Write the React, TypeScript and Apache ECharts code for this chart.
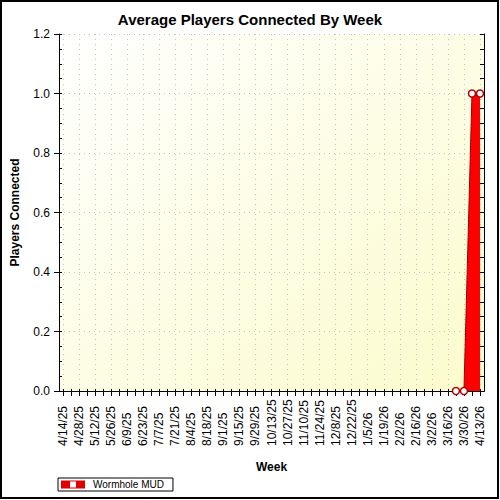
import React, { useEffect, useRef } from "react";
import * as echarts from "echarts";

const weeks: string[] = [
  "4/14/25", "4/21/25", "4/28/25", "5/5/25", "5/12/25", "5/19/25", "5/26/25", "6/2/25",
  "6/9/25", "6/16/25", "6/23/25", "6/30/25", "7/7/25", "7/14/25", "7/21/25", "7/28/25",
  "8/4/25", "8/11/25", "8/18/25", "8/25/25", "9/1/25", "9/8/25", "9/15/25", "9/22/25",
  "9/29/25", "10/6/25", "10/13/25", "10/20/25", "10/27/25", "11/3/25", "11/10/25", "11/17/25",
  "11/24/25", "12/1/25", "12/8/25", "12/15/25", "12/22/25", "12/29/25", "1/5/26", "1/12/26",
  "1/19/26", "1/26/26", "2/2/26", "2/9/26", "2/16/26", "2/23/26", "3/2/26", "3/9/26",
  "3/16/26", "3/23/26", "3/30/26", "4/6/26", "4/13/26",
];

// Only the last four weeks carry data; earlier weeks have no value.
const knownWeeks: string[] = ["3/23/26", "3/30/26", "4/6/26", "4/13/26"];
const knownValues: number[] = [0, 0, 1, 1];

const seriesName = "Wormhole MUD";
const yTicks: number[] = [0, 0.2, 0.4, 0.6, 0.8, 1.0, 1.2];

const playerData: (number | null)[] = weeks.map((w) => {
  const i = knownWeeks.indexOf(w);
  return i >= 0 ? knownValues[i] : null;
});

const FONT = "'Liberation Sans', Arial, sans-serif";

export default function App() {
  const ref = useRef<HTMLDivElement>(null);
  useEffect(() => {
    if (!ref.current) return;
    const chart = echarts.init(ref.current, undefined, { renderer: "svg" });
    const yMin = yTicks[0];
    const yMax = yTicks[yTicks.length - 1];
    const yInt = yTicks[1] - yTicks[0];
    const dotted = { type: [1, 4] as any, color: "#c4c4c4", width: 1 };
    chart.setOption({
      animation: false,
      backgroundColor: "#ffffff",
      textStyle: { fontFamily: FONT },
      title: {
        text: "Average Players Connected By Week",
        left: "center",
        top: 7,
        textStyle: { fontFamily: FONT, fontSize: 15, fontWeight: "bold", color: "#000" },
      },
      graphic: [
        {
          type: "rect",
          shape: { x: 1, y: 1, width: 497, height: 497 },
          style: { fill: "none", stroke: "#000", lineWidth: 2 },
          silent: true,
          z: 100,
        },
      ],
      legend: {
        left: 58,
        top: 478,
        orient: "horizontal",
        backgroundColor: "#fff",
        borderColor: "#000",
        borderWidth: 1,
        borderRadius: 0,
        padding: [1, 9, 1, 3],
        itemWidth: 24,
        itemHeight: 8,
        icon: "path://M0,0H24V8H0Z M9,1V7H15V1Z",
        itemStyle: { color: "#e00000", borderWidth: 0 },
        textStyle: { fontFamily: FONT, fontSize: 10, color: "#000", padding: [0, 0, 0, 3], lineHeight: 11 },
        data: [seriesName],
      },
      grid: {
        left: 59,
        top: 34,
        right: 16,
        bottom: 109,
        show: true,
        borderWidth: 0,
        backgroundColor: new echarts.graphic.LinearGradient(0, 0, 1, 1, [
          { offset: 0, color: "#ffffff" },
          { offset: 1, color: "#fbfbcc" },
        ]),
      },
      xAxis: [
        {
          type: "category",
          position: "bottom",
          data: weeks,
          boundaryGap: true,
          name: "Week",
          nameLocation: "middle",
          nameGap: 70,
          nameTextStyle: { fontFamily: FONT, fontSize: 12, fontWeight: "bold", color: "#000" },
          axisLine: { show: true, lineStyle: { color: "#000", width: 1 } },
          axisTick: { show: true, inside: false, length: 5, interval: 0, alignWithLabel: true, lineStyle: { color: "#000" } },
          axisLabel: {
            interval: 1,
            rotate: 90,
            align: "left",
            verticalAlign: "middle",
            margin: 55,
            fontFamily: FONT,
            fontSize: 12,
            color: "#000",
          },
          splitLine: { show: true, interval: 1, alignWithLabel: true, lineStyle: dotted } as any,
        },
        {
          type: "category",
          position: "top",
          data: weeks,
          boundaryGap: true,
          axisLine: { show: true, lineStyle: { color: "#000", width: 1 } },
          axisTick: { show: true, inside: true, length: 4, interval: 0, alignWithLabel: true, lineStyle: { color: "#000" } },
          axisLabel: { show: false },
          splitLine: { show: false },
        },
        {
          type: "category",
          position: "bottom",
          data: weeks,
          boundaryGap: true,
          axisLine: { show: false },
          axisTick: { show: true, inside: true, length: 2, interval: 0, alignWithLabel: true, lineStyle: { color: "#000" } },
          axisLabel: { show: false },
          splitLine: { show: false },
        },
      ],
      yAxis: [
        {
          type: "value",
          position: "left",
          min: yMin,
          max: yMax,
          interval: yInt,
          name: "Players Connected",
          nameLocation: "middle",
          nameGap: 38,
          nameTextStyle: { fontFamily: FONT, fontSize: 12, fontWeight: "bold", color: "#000" },
          axisLine: { show: true, lineStyle: { color: "#000", width: 1 } },
          axisTick: { show: true, inside: false, length: 5, lineStyle: { color: "#000" } },
          axisLabel: {
            margin: 9,
            fontFamily: FONT,
            fontSize: 12,
            color: "#000",
            formatter: (v: number) => v.toFixed(1),
          },
          splitLine: { show: true, lineStyle: dotted },
        },
        {
          type: "value",
          position: "left",
          min: yMin,
          max: yMax,
          interval: yInt,
          axisLine: { show: false },
          axisTick: { show: true, inside: true, length: 3, lineStyle: { color: "#000" } },
          minorTick: { show: true, splitNumber: 4, length: 3, lineStyle: { color: "#000" } },
          axisLabel: { show: false },
          splitLine: { show: false },
        },
        {
          type: "value",
          position: "right",
          min: yMin,
          max: yMax,
          interval: yInt,
          axisLine: { show: true, lineStyle: { color: "#000", width: 1 } },
          axisTick: { show: true, inside: true, length: 4, lineStyle: { color: "#000" } },
          minorTick: { show: true, splitNumber: 4, length: 4, lineStyle: { color: "#000" } },
          axisLabel: { show: false },
          splitLine: { show: false },
        },
      ],
      series: [
        {
          name: seriesName,
          type: "line",
          xAxisIndex: 0,
          yAxisIndex: 0,
          data: playerData,
          connectNulls: false,
          showSymbol: true,
          showAllSymbol: true,
          symbol: "circle",
          symbolSize: 7,
          lineStyle: { color: "#a00000", width: 1 },
          areaStyle: { color: "#ff0000", opacity: 1 },
          itemStyle: { color: "#ffffff", borderColor: "#b00000", borderWidth: 1.5 },
          z: 5,
        },
      ],
    });
    return () => chart.dispose();
  }, []);
  return (
    <div
      ref={ref}
      style={{ position: "absolute", left: 0, top: 0, width: 500, height: 500 }}
    />
  );
}
